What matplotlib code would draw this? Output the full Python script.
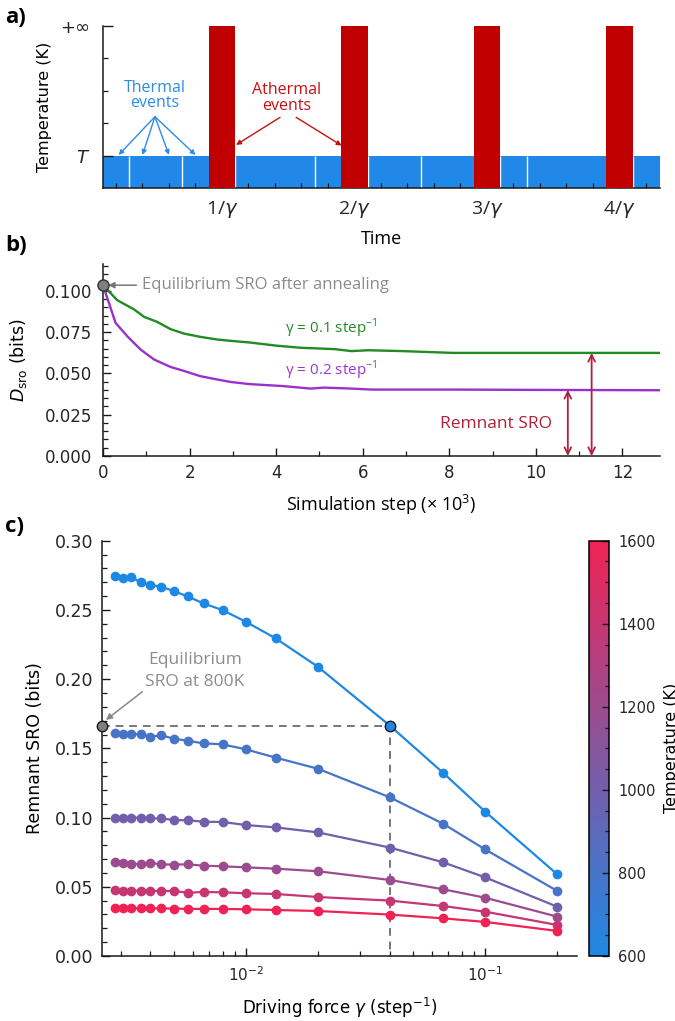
import numpy as np
import matplotlib
matplotlib.use('Agg')
import matplotlib.pyplot as plt
from matplotlib.colors import LinearSegmentedColormap, Normalize
from matplotlib.cm import ScalarMappable
from matplotlib.ticker import MultipleLocator, FixedLocator, NullFormatter, LogLocator

plt.rcParams['font.family'] = ['DejaVu Sans']
plt.rcParams['mathtext.fontset'] = 'dejavusans'

OS = ['Open Sans', 'DejaVu Sans']

# ---------------- data: panel a ----------------
athermal_times = [1, 2, 3, 4]
athermal_labels = [r'1/$\gamma$', r'2/$\gamma$', r'3/$\gamma$', r'4/$\gamma$']
athermal_width = 0.2
thermal_boundaries = [0.3, 0.7, 1.7, 2.5, 3.3]
thermal_targets = [0.22, 0.40, 0.60, 0.80]
athermal_targets = [1.106, 1.903]
T_level = 1
inf_level = 5
time_lim = (0.102, 4.306)

# ---------------- data: panel b ----------------
step_g01 = [0, 0.33, 0.72, 0.95, 1.25, 1.56, 1.87, 2.25, 2.64, 2.95, 3.39, 4.0, 4.57,
            5.35, 5.74, 6.13, 6.91, 8.09, 9.5, 11.0, 12.87]
dsro_g01 = [0.1034, 0.0943, 0.0887, 0.0842, 0.0812, 0.0768, 0.0741, 0.0721, 0.0705,
            0.0697, 0.0687, 0.0668, 0.0655, 0.0647, 0.0635, 0.0640, 0.0635, 0.0624,
            0.0624, 0.0624, 0.0624]
step_g02 = [0, 0.29, 0.56, 0.87, 1.18, 1.56, 1.87, 2.25, 2.64, 2.95, 3.39, 4.17, 4.8,
            5.1, 5.74, 6.2, 8.09, 10.0, 12.87]
dsro_g02 = [0.1034, 0.0806, 0.0725, 0.0644, 0.0584, 0.0539, 0.0515, 0.0483, 0.0463,
            0.0448, 0.0435, 0.0423, 0.0408, 0.0414, 0.0408, 0.0402, 0.0402, 0.0400, 0.0398]
eq_sro_annealed = 0.1034
remnant_arrow_steps = [10.74, 11.29]
remnant_values = [0.0400, 0.0624]

# ---------------- data: panel c ----------------
gamma = [0.002857, 0.003077, 0.003333, 0.003636, 0.004, 0.004444, 0.005, 0.005714,
         0.006667, 0.008, 0.01, 0.01333, 0.02, 0.04, 0.06667, 0.1, 0.2]
temperatures = [600, 800, 1000, 1200, 1400, 1600]
remnant = {
    600: [0.2745, 0.2733, 0.2738, 0.2699, 0.2680, 0.2668, 0.2636, 0.2598, 0.2547, 0.2499,
          0.2415, 0.2295, 0.2090, 0.1664, 0.1324, 0.1043, 0.0590],
    800: [0.1608, 0.1606, 0.1601, 0.1604, 0.1584, 0.1594, 0.1570, 0.1555, 0.1536, 0.1529,
          0.1493, 0.1433, 0.1353, 0.1146, 0.0956, 0.0770, 0.0470],
    1000: [0.0999, 0.0999, 0.0999, 0.0999, 0.0994, 0.0994, 0.0982, 0.0980, 0.0970, 0.0968,
           0.0946, 0.0929, 0.0893, 0.0783, 0.0677, 0.0568, 0.0356],
    1200: [0.0677, 0.0672, 0.0667, 0.0662, 0.0672, 0.0662, 0.0660, 0.0662, 0.0652, 0.0648,
           0.0640, 0.0631, 0.0612, 0.0549, 0.0482, 0.0421, 0.0284],
    1400: [0.0477, 0.0472, 0.0472, 0.0472, 0.0470, 0.0470, 0.0470, 0.0457, 0.0462, 0.0460,
           0.0453, 0.0448, 0.0426, 0.0400, 0.0361, 0.0320, 0.0224],
    1600: [0.0344, 0.0349, 0.0344, 0.0344, 0.0344, 0.0344, 0.0342, 0.0340, 0.0340, 0.0340,
           0.0337, 0.0332, 0.0325, 0.0299, 0.0272, 0.0246, 0.0181],
}
eq_sro_800 = 0.1664
gamma_match = 0.04
gamma_lim = (0.00251, 0.242)

# ---------------- colours ----------------
BLUE = '#2188e8'
RED = '#c00000'
GRAY = '#8c8c8c'
DARKRED = '#b0203a'
TXT = '#262626'
cmap = LinearSegmentedColormap.from_list('bluered', ['#1e88e5', '#f02255'])
norm = Normalize(600, 1600)

fig = plt.figure(figsize=(6.75, 10.21), dpi=100)

def style(ax):
    for s in ['top', 'right']:
        ax.spines[s].set_visible(False)
    for s in ['left', 'bottom']:
        ax.spines[s].set_linewidth(1.1)
        ax.spines[s].set_color('#1a1a1a')
    ax.tick_params(which='both', direction='in', colors='#1a1a1a', labelcolor=TXT)
    ax.tick_params(which='major', length=6, width=1.0)
    ax.tick_params(which='minor', length=3.5, width=0.9)

# ================= panel a =================
axa = fig.add_axes([0.1526, 0.8159, 0.8252, 0.1586])
style(axa)
axa.set_xlim(*time_lim)
axa.set_ylim(0, inf_level)
axa.bar(time_lim[0], T_level, width=time_lim[1] - time_lim[0], align='edge',
        color=BLUE, zorder=1)
edges = thermal_boundaries + [t + athermal_width / 2 for t in athermal_times]
axa.vlines(edges, 0, T_level, color='white', lw=1.0, zorder=2)
axa.bar(athermal_times, inf_level, width=athermal_width, color=RED, zorder=3)
axa.set_xticks(athermal_times)
axa.set_xticklabels(athermal_labels, fontsize=14, family=OS)
axa.xaxis.set_minor_locator(MultipleLocator(0.2))
axa.set_yticks([T_level, inf_level])
axa.set_yticklabels([r'$T$', '+∞'], fontsize=13)
axa.yaxis.set_minor_locator(FixedLocator([2, 3, 4]))
axa.tick_params(axis='x', which='both', pad=8)
axa.tick_params(axis='y', which='major', pad=9, length=7)
axa.set_xlabel('Time', fontsize=13, family=OS)
axa.xaxis.set_label_coords(0.5, -0.26)
axa.xaxis.label.set_va('top')
axa.set_ylabel('Temperature (K)', fontsize=11.5)
axa.yaxis.set_label_coords(-0.092, 0.5)
axa.text(0.494, 2.85, 'Thermal\nevents', color='#2e8be6', fontsize=11.5, family=OS,
         ha='center', va='center', linespacing=0.95)
for tx in thermal_targets:
    axa.annotate('', xy=(tx, T_level + 0.02), xytext=(0.494, 2.2),
                 arrowprops=dict(arrowstyle='-|>', color='#2e8be6', lw=1.0,
                                 shrinkA=0, shrinkB=0, mutation_scale=7))
axa.text(1.49, 2.78, 'Athermal\nevents', color='#c81010', fontsize=11.5, family=OS,
         ha='center', va='center', linespacing=0.95)
axa.annotate('', xy=(athermal_targets[0], 1.33), xytext=(1.438, 2.18),
             arrowprops=dict(arrowstyle='-|>', color='#c81010', lw=1.0,
                             shrinkA=0, shrinkB=0, mutation_scale=7))
axa.annotate('', xy=(athermal_targets[1], 1.31), xytext=(1.56, 2.18),
             arrowprops=dict(arrowstyle='-|>', color='#c81010', lw=1.0,
                             shrinkA=0, shrinkB=0, mutation_scale=7))

# ================= panel b =================
axb = fig.add_axes([0.1526, 0.5534, 0.8252, 0.1880])
style(axb)
axb.plot(step_g01, dsro_g01, color='#228b22', lw=1.7)
axb.plot(step_g02, dsro_g02, color='#9932cc', lw=1.7)
axb.set_xlim(0, 12.87)
axb.set_ylim(0, 0.1162)
axb.xaxis.set_major_locator(MultipleLocator(2))
axb.xaxis.set_minor_locator(MultipleLocator(1))
axb.yaxis.set_major_locator(MultipleLocator(0.025))
axb.yaxis.set_minor_locator(MultipleLocator(0.005))
axb.yaxis.set_major_formatter(matplotlib.ticker.FormatStrFormatter('%.3f'))
axb.tick_params(axis='both', which='major', labelsize=12)
axb.tick_params(axis='y', which='both', pad=8)
axb.tick_params(axis='x', which='both', pad=6)
axb.plot([0], [eq_sro_annealed], 'o', ms=8, mfc='#808080', mec='#333333', mew=1.0,
         clip_on=False, zorder=5)
axb.annotate('Equilibrium SRO after annealing', xy=(0.12, eq_sro_annealed),
             xytext=(0.9, eq_sro_annealed), color=GRAY, fontsize=12, family=OS,
             va='center', ha='left',
             arrowprops=dict(arrowstyle='-|>', color='#777777', lw=1.1,
                             shrinkA=2, shrinkB=0, mutation_scale=9))
axb.text(4.21, 0.0772, r'γ = 0.1 step$^{\mathregular{-1}}$', color='#228b22',
         fontsize=11, family=OS, va='center', ha='left')
axb.text(4.21, 0.052, r'γ = 0.2 step$^{\mathregular{-1}}$', color='#a035d6',
         fontsize=11, family=OS, va='center', ha='left')
axb.text(9.07, 0.0192, 'Remnant SRO', color=DARKRED, fontsize=12.5, family=OS,
         va='center', ha='center')
for xs, v in zip(remnant_arrow_steps, remnant_values):
    axb.annotate('', xy=(xs, v), xytext=(xs, 0),
                 arrowprops=dict(arrowstyle='<->', color=DARKRED, lw=1.3,
                                 shrinkA=0, shrinkB=0, mutation_scale=12))
axb.set_xlabel('Simulation step (× 10$^{\\mathregular{3}}$)', fontsize=13, family=OS)
axb.xaxis.set_label_coords(0.5, -0.19)
axb.xaxis.label.set_va('top')
axb.set_ylabel(r'$D_{\mathrm{sro}}$ (bits)', fontsize=12.5)
axb.yaxis.set_label_coords(-0.133, 0.5)

# ================= panel c =================
axc = fig.add_axes([0.1511, 0.0637, 0.7037, 0.4067])
style(axc)
axc.set_xscale('log')
for T in temperatures:
    c = cmap(norm(T))
    axc.plot(gamma, remnant[T], '-o', color=c, lw=1.6, ms=7, mew=0, zorder=3)
axc.plot([gamma_lim[0], gamma_match, gamma_match], [eq_sro_800, eq_sro_800, 0],
         ls=(0, (4, 3)), color='#777777', lw=1.4, zorder=2)
axc.plot([gamma_match], [eq_sro_800], 'o', ms=7.5, mfc=cmap(norm(600)), mec='#1a1a1a',
         mew=1.0, zorder=6)
axc.plot([gamma_lim[0]], [eq_sro_800], 'o', ms=7.5, mfc='#808080', mec='#1a1a1a',
         mew=1.0, zorder=6, clip_on=False)
axc.set_xlim(*gamma_lim)
axc.set_ylim(0, 0.30)
axc.yaxis.set_major_locator(MultipleLocator(0.05))
axc.yaxis.set_minor_locator(MultipleLocator(0.01))
axc.yaxis.set_major_formatter(matplotlib.ticker.FormatStrFormatter('%.2f'))
axc.xaxis.set_major_locator(LogLocator(base=10))
axc.xaxis.set_minor_locator(LogLocator(base=10, subs=np.arange(2, 10)))
axc.xaxis.set_minor_formatter(NullFormatter())
axc.tick_params(axis='y', which='major', labelsize=12.5, pad=6.5)
axc.tick_params(axis='x', which='major', labelsize=11, pad=7)
axc.text(0.00614, 0.2058, 'Equilibrium\nSRO at 800K', color=GRAY, fontsize=12.5,
         family=OS, ha='center', va='center', linespacing=1.45)
axc.annotate('', xy=(0.002606, 0.1705), xytext=(0.0037, 0.1909),
             arrowprops=dict(arrowstyle='-|>', color='#888888', lw=1.1,
                             shrinkA=0, shrinkB=0, mutation_scale=9))
axc.set_xlabel(r'Driving force $\gamma$ (step$^{-1}$)', fontsize=12)
axc.xaxis.set_label_coords(0.5, -0.096)
axc.xaxis.label.set_va('top')
axc.set_ylabel('Remnant SRO (bits)', fontsize=12.5)
axc.yaxis.set_label_coords(-0.123, 0.5)

cax = fig.add_axes([0.8726, 0.0637, 0.0296, 0.4067])
cb = fig.colorbar(ScalarMappable(norm=norm, cmap=cmap), cax=cax)
cb.set_ticks([600, 800, 1000, 1200, 1400, 1600])
cb.ax.yaxis.set_minor_locator(MultipleLocator(50))
cb.ax.tick_params(which='both', direction='in', labelsize=10.5, pad=6.5,
                  colors='#1a1a1a', labelcolor=TXT)
cb.ax.tick_params(which='major', length=5, width=1)
cb.ax.tick_params(which='minor', length=3, width=0.9)
cb.outline.set_linewidth(1.1)
cb.set_label('Temperature (K)', fontsize=11.5, labelpad=6.5)

# panel letters
for lab, (x, y) in zip(['a)', 'b)', 'c)'], [(0.008, 0.983), (0.008, 0.760), (0.008, 0.484)]):
    fig.text(x, y, lab, fontsize=16, fontweight='bold', family=OS, ha='left', va='center')

fig.savefig('out.png', dpi=100)
